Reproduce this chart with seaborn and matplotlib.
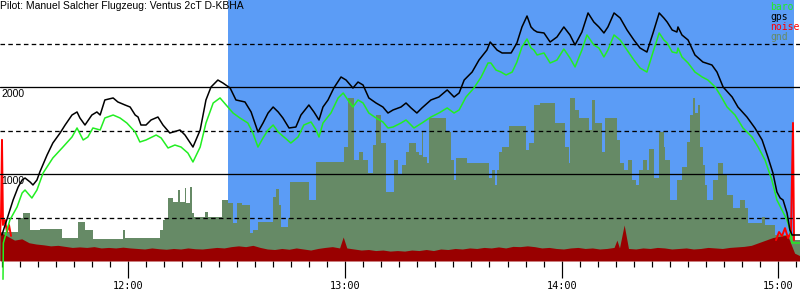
import matplotlib
matplotlib.use("Agg")
import matplotlib.pyplot as plt
import seaborn as sns
import pandas as pd
from matplotlib.ticker import FixedLocator, MultipleLocator, FuncFormatter

title = "Pilot: Manuel Salcher Flugzeug: Ventus 2cT D-KBHA"

# time in minutes after 11:00, altitudes in metres
gps_t = [25.0, 28.1, 29.5, 30.6, 31.4, 32.8, 33.6, 34.7, 35.5, 37.5, 39.1, 41.1, 42.5, 44.4, 45.8,
         46.6, 48.0, 49.9, 51.3, 52.2, 53.5, 55.8, 57.1, 59.1, 60.5, 61.9, 62.7, 63.5, 64.9, 66.3,
         68.2, 69.6, 71.5, 74.3, 75.7, 77.9, 79.9, 81.5, 82.9, 84.8, 86.2, 88.2, 89.8, 92.3, 94.0,
         95.9, 97.3, 98.7, 100.1, 101.5, 102.8, 104.5, 106.4, 107.8, 110.0, 111.4, 112.8, 113.9,
         115.3, 116.9, 118.9, 120.3, 122.2, 123.6, 125.0, 126.6, 128.6, 130.5, 131.9, 133.3, 135.5,
         136.9, 138.3, 139.9, 141.3, 143.8, 146.0, 148.3, 150.2, 151.6, 153.0, 155.2, 157.1, 159.3,
         160.2, 162.1, 163.5, 166.0, 167.6, 169.0, 170.4, 171.5, 172.3, 173.2, 175.1, 176.8, 178.7,
         180.6, 182.3, 183.7, 185.6, 187.3, 188.9, 190.3, 191.7, 192.8, 194.5, 196.2, 198.1, 200.0,
         201.7, 203.6, 205.3, 207.0, 208.3, 209.2, 210.6, 211.9, 212.2, 213.3, 215.0, 216.9, 219.1,
         221.6, 223.0, 224.7, 227.2, 228.8, 231.3, 233.5, 235.5, 237.1, 238.5, 239.6, 240.5, 241.3,
         242.4, 243.2, 243.8, 246.0]
gps_alt = [299, 701, 851, 931, 954, 908, 874, 931, 1023, 1218, 1356, 1471, 1563, 1678, 1713,
           1644, 1563, 1678, 1713, 1678, 1851, 1874, 1828, 1793, 1770, 1678, 1655, 1563, 1563, 1621,
           1655, 1563, 1471, 1506, 1448, 1310, 1506, 1851, 2000, 2080, 2046, 1988, 1851, 1828, 1713,
           1483, 1586, 1701, 1770, 1713, 1644, 1529, 1540, 1678, 1793, 1713, 1621, 1770,
           1851, 1988, 2115, 2080, 1988, 2057, 2023, 1874, 1816, 1770, 1701, 1736, 1770,
           1816, 1759, 1701, 1759, 1851, 1885, 1966, 1885, 1931, 2080, 2172, 2310, 2425,
           2517, 2425, 2391, 2391, 2506, 2690, 2816, 2690, 2655, 2632, 2621, 2517, 2575,
           2690, 2598, 2483, 2632, 2851, 2747, 2690, 2621, 2690, 2851, 2793, 2655, 2540,
           2448, 2402, 2621, 2851, 2793, 2747, 2655, 2632, 2690, 2598, 2540, 2368, 2287,
           2253, 2172, 2000, 1885, 1770, 1655, 1529, 1391, 1195, 1011, 793, 724, 701,
           552, 356, 299, 299]

baro_t = [25.3, 25.4, 27.2, 29.2, 30.6, 31.4, 33.3, 34.7, 36.4, 39.1, 41.9, 44.4, 45.8, 47.5, 48.8,
          50.2, 52.2, 53.5, 55.8, 57.7, 59.6, 61.9, 63.2, 64.9, 67.7, 69.1, 71.0, 72.9, 74.6, 76.5,
          77.9, 79.9, 81.5, 83.5, 85.4, 87.1, 89.0, 90.9, 93.1, 94.5, 95.9, 97.3, 98.7, 100.1, 101.5,
          103.1, 105.0, 107.0, 108.6, 110.6, 112.0, 112.8, 113.9, 116.1, 118.1, 119.5, 120.8, 122.2,
          123.6, 125.0, 126.6, 128.6, 130.5, 131.9, 133.3, 135.5, 136.9, 139.1, 141.3, 143.8, 146.0,
          148.3, 150.2, 151.6, 153.5, 155.7, 157.7, 159.6, 160.4, 161.8, 163.2, 164.6, 166.3, 167.6,
          169.0, 170.4, 171.5, 172.3, 173.2, 175.1, 176.8, 178.7, 180.6, 182.3, 183.7, 185.6, 187.0,
          188.9, 190.3, 191.7, 192.8, 194.5, 196.2, 198.1, 200.0, 201.7, 203.6, 205.3, 207.0, 208.3,
          209.2, 210.6, 211.9, 212.2, 213.3, 215.0, 216.9, 218.9, 220.5, 222.5, 223.9, 225.8, 228.0,
          230.2, 232.7, 234.4, 236.3, 238.2, 239.6, 241.0, 242.4, 243.2, 243.8, 246.0]
baro_alt = [-210, 207, 471, 621, 782, 816, 724, 816, 1011, 1184, 1310, 1425, 1529, 1391, 1425,
            1529, 1506, 1644, 1678, 1644, 1586, 1483, 1368, 1391, 1448, 1414, 1299, 1333, 1310, 1241,
            1138, 1310, 1586, 1816, 1874, 1793, 1701, 1644, 1586, 1471, 1310, 1414, 1506, 1563, 1483,
            1425, 1356, 1425, 1563, 1598, 1506, 1425, 1586, 1701, 1874, 1931, 1851, 1770,
            1851, 1816, 1701, 1644, 1598, 1529, 1540, 1586, 1621, 1529, 1586, 1655, 1701,
            1759, 1701, 1736, 1885, 1988, 2115, 2276, 2276, 2195, 2172, 2138, 2172, 2287,
            2460, 2552, 2448, 2425, 2368, 2391, 2276, 2310, 2437, 2333, 2230, 2425, 2598,
            2483, 2448, 2345, 2425, 2598, 2540, 2425, 2310, 2218, 2172, 2402, 2621, 2540,
            2506, 2402, 2391, 2448, 2345, 2276, 2172, 2115, 2080, 2000, 1908, 1770, 1678,
            1529, 1425, 1310, 1161, 931, 701, 586, 471, 356, 207, 207]

gnd_t = [24.5, 29.5, 30.8, 32.8, 35.5, 41.6, 46.1, 48.0, 50.2, 58.5, 59.1, 68.8, 69.6, 70.2, 71.0,
         72.4, 73.8, 74.3, 75.7, 76.0, 77.1, 77.6, 78.2, 81.2, 82.1, 85.9, 87.6, 89.0, 90.1, 91.5,
         93.7, 94.5, 95.9, 100.1, 100.9, 101.7, 102.3, 104.2, 104.8, 110.0, 112.0, 119.7, 120.8,
         122.5, 123.9, 125.0, 126.4, 127.8, 128.6, 130.0, 131.4, 133.6, 134.7, 135.8, 136.9, 137.7,
         139.7, 140.5, 141.3, 141.6, 142.7, 143.3, 148.0, 149.4, 150.2, 150.7, 153.8, 159.9, 160.7,
         161.5, 162.1, 162.6, 163.5, 165.4, 170.1, 171.0, 172.3, 174.0, 178.2, 180.9, 182.0, 182.3,
         183.7, 184.8, 187.6, 188.4, 189.2, 191.2, 192.0, 195.3, 196.2, 197.3, 198.4, 199.5, 200.6,
         201.4, 202.5, 203.6, 204.2, 205.6, 207.0, 208.3, 208.6, 210.0, 211.9, 213.3, 214.7, 215.5,
         216.4, 216.9, 217.8, 218.3, 219.1, 219.7, 220.3, 221.9, 223.3, 224.7, 225.8, 227.4, 229.4,
         230.8, 231.6, 235.5, 236.3, 239.1, 244.1, 246.0]
gnd_alt = [333, 494, 552, 356, 368, 264, 448, 356, 253, 356, 264, 356, 471, 494, 724,
           678, 816, 678, 839, 667, 851, 552, 506, 563, 506, 701, 667, 437, 667, 644,
           322, 356, 448, 736, 828, 644, 391, 494, 908, 701, 1138, 1310, 1874,
           1161, 1253, 1161, 1011, 1333, 1678, 1356, 793, 1161, 988, 1103, 1253, 1356,
           1253, 1218, 1483, 1195, 1126, 1644, 1483, 1161, 931, 1184, 1126, 954, 1046,
           874, 1046, 1253, 1310, 1552, 1276, 1356, 1793, 1816, 1586, 1310, 1126, 1874,
           1736, 1644, 1506, 1851, 1586, 1253, 1644, 1391, 1126, 1046, 1161, 931, 874,
           1046, 1161, 1046, 1287, 954, 1483, 1310, 1161, 701, 931, 1080, 1368, 1678,
           1874, 1701, 1793, 1310, 1103, 874, 701, 931, 1126, 988, 759, 609, 701,
           609, 437, 506, 414, 299, 241, 241]

# engine noise level (0..1000)
noise_t = [24.5, 26.5, 28.5, 30.5, 32.5, 34.5, 36.5, 38.5, 40.5, 42.5, 44.5, 46.5, 48.5, 50.5,
           52.5, 54.5, 56.5, 58.5, 60.5, 62.5, 64.5, 66.5, 68.5, 70.5, 72.5, 74.5, 76.5, 78.5,
           80.5, 82.5, 84.5, 86.5, 88.5, 90.5, 92.5, 94.5, 96.5, 98.5, 100.5, 102.5, 104.5,
           106.5, 108.5, 110.5, 112.5, 114.5, 116.5, 118.5, 119.5, 120.5, 122.5, 124.5, 126.5,
           128.5, 130.5, 132.5, 134.5, 136.5, 138.5, 140.5, 142.5, 144.5, 146.5, 148.5, 150.5,
           152.5, 154.5, 156.5, 158.5, 160.5, 162.5, 164.5, 166.5, 168.5, 170.5, 172.5, 174.5,
           176.5, 178.5, 180.5, 182.5, 184.5, 186.5, 188.5, 190.5, 192.5, 194.5, 195.3, 196.0,
           197.3, 198.5, 200.5, 202.5, 204.5, 206.5, 208.5, 210.5, 212.5, 214.5, 216.5, 218.5,
           220.5, 222.5, 224.5, 226.5, 228.5, 230.5, 232.5, 234.5, 236.5, 238.5, 240.5, 242.5,
           244.5, 246.0]
noise_level = [110, 95, 80, 85, 70, 65, 62, 58, 60, 56, 52, 54, 52, 55,
               50, 52, 50, 53, 50, 48, 46, 50, 47, 45, 48, 46, 50, 47,
               46, 49, 52, 50, 55, 58, 55, 60, 52, 46, 44, 48, 45,
               50, 46, 42, 48, 52, 55, 50, 92, 50, 46, 42, 44,
               40, 42, 38, 40, 38, 42, 40, 44, 40, 46, 44, 48,
               46, 50, 48, 52, 50, 54, 50, 56, 55, 58, 55, 50,
               52, 48, 46, 50, 52, 48, 50, 46, 48, 52, 80, 50,
               138, 48, 46, 50, 48, 52, 50, 46, 48, 50, 46, 48,
               52, 50, 48, 52, 54, 56, 60, 70, 80, 90, 95, 100,
               30, 20]

engine_t = [24.47, 24.75, 25.02, 25.30, 25.85, 26.41, 26.96, 27.52,
            239.35, 240.18, 241.01, 241.84, 242.67, 243.50, 244.05, 244.33]
engine_noise = [100, 176, 464, 138, 157, 111, 138, 96,
                80, 111, 96, 126, 88, 111, 529, 80]

task_start, task_end = 87.6, 244.3
hour_ticks = [60, 120, 180, 240]
alt_labels = [1000, 2000]
legend_names = ["baro", "gps", "noise", "gnd"]

BLUE = "#5b9cf6"
GND = "#668a66"
GREEN = "#22ee22"
DARKRED = "#990000"
RED = "#ff0000"
PX = 0.72  # one pixel in points

sns.set_theme(style="white")
plt.rcParams["font.family"] = ["Liberation Sans", "DejaVu Sans"]

fig = plt.figure(figsize=(8, 3), dpi=100)
ax = fig.add_axes([0, 39 / 300, 1, 261 / 300])
ax.set_xlim(24.47, 245.99)
ax.set_ylim(0, 3000)
ax.axvspan(task_start, task_end, color=BLUE, lw=0, zorder=0)
ax.fill_between(gnd_t, 0, gnd_alt, step="post", color=GND, lw=0, zorder=1)

# noise on its own scale
axn = ax.twinx()
axn.set_ylim(0, 1000)
axn.fill_between(noise_t, 0, noise_level, color=DARKRED, lw=0)
axn.plot(engine_t[:8], engine_noise[:8], color=RED, lw=1.4, clip_on=False)
axn.plot(engine_t[8:], engine_noise[8:], color=RED, lw=1.4, clip_on=False)

# top layer: grid lines and altitude traces
axt = ax.twinx()
axt.set_ylim(0, 3000)
for v in [1000, 2000]:
    axt.axhline(v, color="black", lw=PX * 1.3)
for v in [500, 1500, 2500]:
    axt.axhline(v, color="black", lw=PX * 1.3, ls=(0, (3.5, 2.5)))

df_gps = pd.DataFrame({"t": gps_t, "alt": gps_alt})
df_baro = pd.DataFrame({"t": baro_t, "alt": baro_alt})
sns.lineplot(data=df_baro, x="t", y="alt", ax=axt, color=GREEN, lw=1.1,
             estimator=None, sort=False, clip_on=False)
sns.lineplot(data=df_gps, x="t", y="alt", ax=axt, color="black", lw=1.1,
             estimator=None, sort=False)

for a in (ax, axn, axt):
    for s in a.spines.values():
        s.set_visible(False)
    a.set_ylabel("")
    a.set_xlabel("")
    a.set_yticks([])
    a.grid(False)
axn.set_xlim(ax.get_xlim())
axt.set_xlim(ax.get_xlim())

ax.xaxis.set_major_locator(FixedLocator(hour_ticks))
ax.xaxis.set_minor_locator(MultipleLocator(5))
ax.xaxis.set_major_formatter(FuncFormatter(lambda v, p: f"{11 + int(v // 60):02d}:00"))
ax.tick_params(axis="x", which="major", bottom=True, length=17 * PX, width=1.2 * PX,
               color="black", pad=3 * PX, labelsize=7.4, labelcolor="black")
ax.tick_params(axis="x", which="minor", bottom=True, length=6 * PX, width=1.2 * PX, color="black")
for lab in ax.get_xticklabels():
    lab.set_family("DejaVu Sans Mono")

for v in alt_labels:
    axt.annotate(str(v), xy=(0, v), xycoords=("axes fraction", "data"),
                 xytext=(1, -1.5), textcoords="offset points", ha="left", va="top",
                 fontsize=7.5, color="black")

fig.text(0.0, 1 - 1 / 300, title, ha="left", va="top", fontsize=7.5, color="black")

leg_colors = [GREEN, "black", RED, GND]
for i, (name, c) in enumerate(zip(legend_names, leg_colors)):
    fig.text(770 / 800, 1 - (10 + 10 * i) / 300, name, ha="left", va="baseline",
             fontsize=7, color=c, family="DejaVu Sans Mono")

fig.savefig("out.png", dpi=100)
